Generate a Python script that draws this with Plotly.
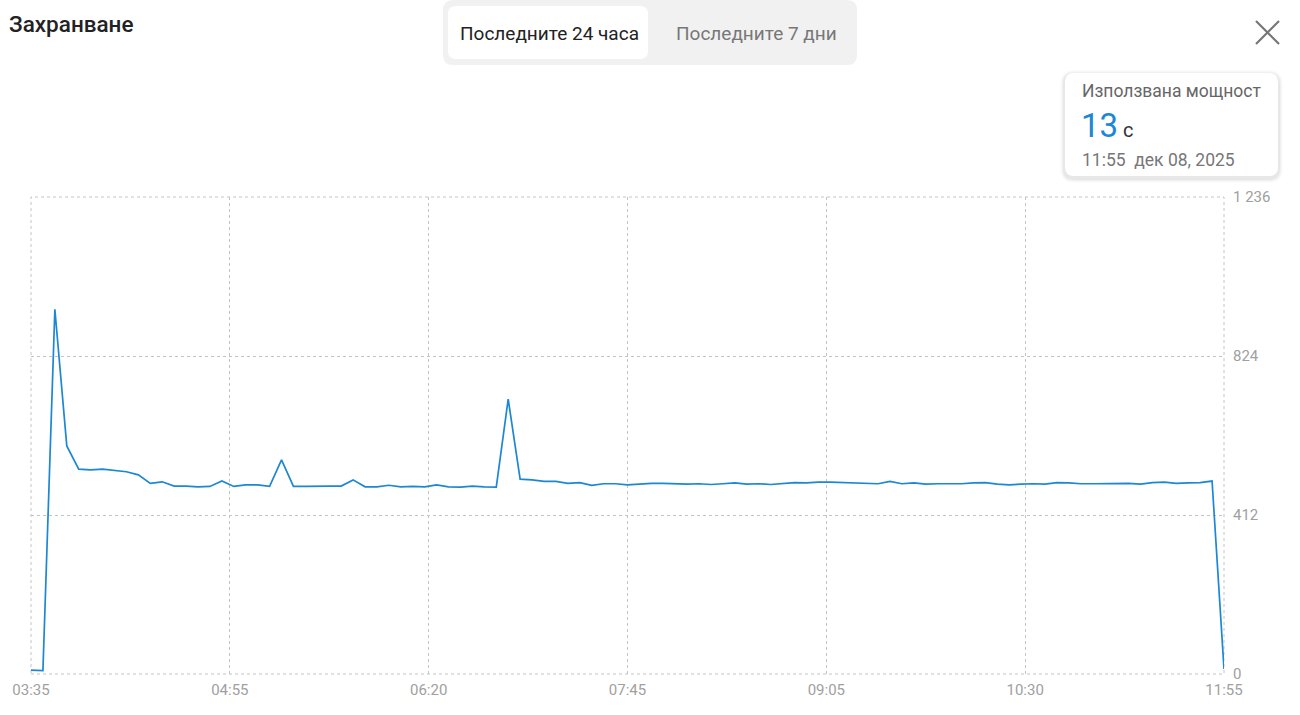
import pandas as pd
import plotly.graph_objects as go

# ---------------- data ----------------
START = "2025-12-08 03:35"
END = "2025-12-08 11:55"
VALUES = [
    10, 9, 945, 591, 531, 529, 531, 528, 524, 516,
    494, 498, 487, 487, 485, 486, 500, 486, 490, 490,
    486, 555, 486, 486, 487, 487, 487, 503, 485, 485,
    489, 485, 486, 485, 490, 485, 484, 487, 485, 484,
    712, 505, 503, 499, 499, 494, 496, 489, 493, 493,
    490, 492, 494, 494, 493, 492, 493, 491, 493, 495,
    492, 493, 491, 493, 496, 495, 497, 497, 496, 496,
    495, 493, 499, 493, 495, 492, 493, 493, 493, 495,
    496, 492, 490, 492, 493, 492, 496, 495, 493, 493,
    493, 494, 494, 492, 496, 497, 494, 495, 496, 500,
    13,
]
X_TICK_LABELS = ["03:35", "04:55", "06:20", "07:45", "09:05", "10:30", "11:55"]
Y_TICK_VALUES = [0, 412, 824, 1236]
Y_TICK_LABELS = ["0", "412", "824", "1 236"]
TITLE = "Захранване"
TABS = ["Последните 24 часа", "Последните 7 дни"]
TIP_TITLE = "Използвана мощност"
TIP_VALUE = "13"
TIP_UNIT = "с"
TIP_DATE = "11:55  дек 08, 2025"

times = pd.date_range(START, periods=len(VALUES), freq="5min")
t0, t1 = pd.Timestamp(START), pd.Timestamp(END)
tickvals = [t0 + k * (t1 - t0) / (len(X_TICK_LABELS) - 1) for k in range(len(X_TICK_LABELS))]

# ---------------- layout geometry (pixels) ----------------
W, H = 1300, 715
L, R, T, B = 31, 1224, 197, 674
GRID = "#c4c4c4"


def px(x):
    return (x - L) / (R - L)


def py(y):
    return (B - y) / (B - T)


def rrect(x0, y0, x1, y1, r):
    # rounded rectangle path in paper coordinates from pixel box
    pts = [
        f"M {px(x0 + r)},{py(y0)}",
        f"L {px(x1 - r)},{py(y0)}",
        f"Q {px(x1)},{py(y0)} {px(x1)},{py(y0 + r)}",
        f"L {px(x1)},{py(y1 - r)}",
        f"Q {px(x1)},{py(y1)} {px(x1 - r)},{py(y1)}",
        f"L {px(x0 + r)},{py(y1)}",
        f"Q {px(x0)},{py(y1)} {px(x0)},{py(y1 - r)}",
        f"L {px(x0)},{py(y0 + r)}",
        f"Q {px(x0)},{py(y0)} {px(x0 + r)},{py(y0)}",
        "Z",
    ]
    return " ".join(pts)


fig = go.Figure()
fig.add_trace(go.Scatter(
    x=times, y=VALUES, mode="lines",
    line=dict(color="#1c87d2", width=1.7),
    hoverinfo="skip", showlegend=False,
))

shapes = []
# plot frame (dotted, like the grid)
shapes.append(dict(type="rect", xref="paper", yref="paper", x0=0, y0=0, x1=1, y1=1,
                   line=dict(color=GRID, width=1, dash="dot"), fillcolor="rgba(0,0,0,0)", layer="below"))
# tab control background
shapes.append(dict(type="path", xref="paper", yref="paper", path=rrect(443, 0, 857, 65, 10),
                   fillcolor="#f1f1f1", line=dict(width=0), layer="above"))
shapes.append(dict(type="path", xref="paper", yref="paper", path=rrect(448, 6, 648, 59, 8),
                   fillcolor="#ffffff", line=dict(width=0), layer="above"))
# tooltip soft shadow layers
for i, op in enumerate([0.012, 0.02, 0.028, 0.036]):
    d = 5 - i
    shapes.append(dict(type="path", xref="paper", yref="paper",
                       path=rrect(1065 - d, 73 - d + 2, 1278 + d, 176 + d + 2, 9 + d),
                       fillcolor=f"rgba(0,0,0,{op})", line=dict(width=0), layer="above"))
shapes.append(dict(type="path", xref="paper", yref="paper", path=rrect(1065, 73, 1278, 176, 9),
                   fillcolor="#ffffff", line=dict(width=0), layer="above"))
# close icon
shapes.append(dict(type="line", xref="paper", yref="paper", x0=px(1256), y0=py(21), x1=px(1279), y1=py(44),
                   line=dict(color="#757575", width=2.2), layer="above"))
shapes.append(dict(type="line", xref="paper", yref="paper", x0=px(1256), y0=py(44), x1=px(1279), y1=py(21),
                   line=dict(color="#757575", width=2.2), layer="above"))

annotations = []


def add_text(text, x, y, size, color, xanchor="left", weight=None):
    f = dict(family="Roboto", size=size, color=color)
    if weight:
        f["weight"] = weight
    annotations.append(dict(text=text, xref="paper", yref="paper", x=px(x), y=py(y),
                            xanchor=xanchor, yanchor="middle", showarrow=False, font=f))


add_text(TITLE, 7, 24, 22.5, "#222222", weight=500)
add_text(TABS[0], 549, 33, 19, "#222222", xanchor="center")
add_text(TABS[1], 756, 33, 19, "#777777", xanchor="center")
add_text(TIP_TITLE, 1080, 91, 17.5, "#666666")
add_text(TIP_VALUE, 1079, 126, 33, "#1c87d2")
add_text(TIP_UNIT, 1121, 130, 20, "#333333")
add_text(TIP_DATE, 1080, 160, 17.5, "#777777")

tickfont = dict(family="Roboto", size=15, color="#a0a0a0")
fig.update_layout(
    width=W, height=H,
    margin=dict(l=L, r=W - R, t=T, b=H - B, pad=0),
    paper_bgcolor="white", plot_bgcolor="white",
    shapes=shapes, annotations=annotations,
    font=dict(family="Roboto", color="#a0a0a0", size=15),
    xaxis=dict(
        range=[t0, t1], tickvals=tickvals, ticktext=X_TICK_LABELS,
        showgrid=True, gridcolor=GRID, griddash="dot", gridwidth=1,
        zeroline=False, showline=False, ticks="", ticklabelstandoff=5,
        tickfont=tickfont,
    ),
    yaxis=dict(
        range=[0, 1236], tickvals=Y_TICK_VALUES, ticktext=Y_TICK_LABELS,
        side="right", showgrid=True, gridcolor=GRID, griddash="dot", gridwidth=1,
        zeroline=False, showline=False, ticks="", ticklabelstandoff=8,
        tickfont=tickfont,
    ),
    hovermode=False,
)

fig.write_html("out.html", config={"displayModeBar": False},
               post_script="document.body.style.margin='0';document.body.style.overflow='hidden';")
